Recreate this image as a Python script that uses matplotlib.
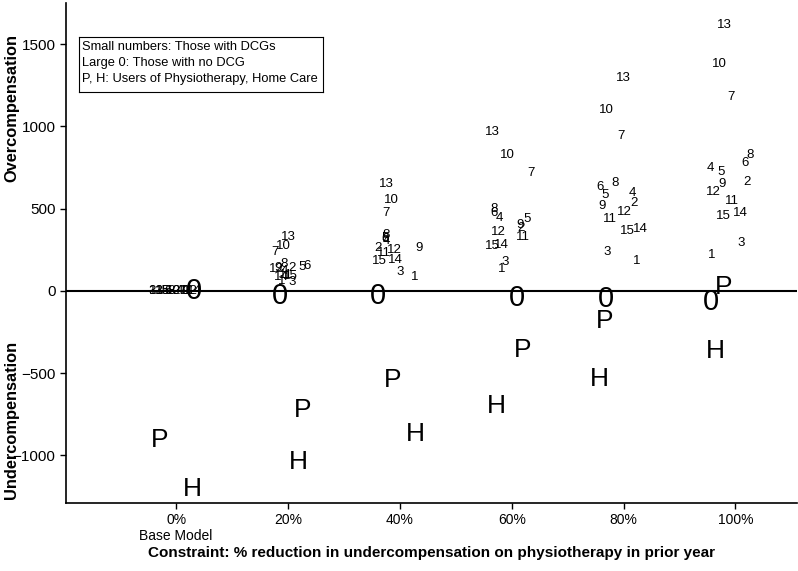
import matplotlib
matplotlib.use("Agg")
import matplotlib.pyplot as plt
from matplotlib import font_manager

names = {f.name for f in font_manager.fontManager.ttflist}
NARROW = "Liberation Sans Narrow" if "Liberation Sans Narrow" in names else "Liberation Sans"
REG = "Liberation Sans"

# constraint levels (% reduction) and tick labels
levels = [0, 20, 40, 60, 80, 100]
tick_labels = ["0%", "20%", "40%", "60%", "80%", "100%"]

# DCG labels 1..15: jittered x position and value (per level)
dcg_labels = [str(i) for i in range(1, 16)]
dcg_x = [
    [-3.0, 18.8, 42.7, 58.2, 82.3, 95.7],
    [0.0, 20.7, 36.0, 61.6, 81.8, 102.0],
    [-4.3, 20.8, 40.0, 58.8, 77.0, 101.1],
    [0.5, 19.4, 37.5, 57.8, 81.6, 95.6],
    [-2.0, 22.5, 37.4, 62.7, 76.6, 97.5],
    [-1.5, 23.4, 37.3, 56.9, 75.8, 101.7],
    [1.0, 17.6, 37.5, 63.4, 79.6, 99.2],
    [-1.0, 19.2, 37.6, 56.9, 78.4, 102.6],
    [1.5, 18.3, 43.4, 61.5, 76.1, 97.6],
    [-0.5, 19.2, 38.4, 59.3, 76.9, 97.2],
    [2.0, 19.7, 37.2, 62.0, 77.5, 99.4],
    [2.5, 17.9, 39.0, 57.6, 80.2, 96.0],
    [-3.6, 20.1, 37.5, 56.5, 79.9, 98.0],
    [3.2, 18.8, 39.2, 58.1, 83.0, 100.8],
    [-2.5, 20.4, 36.4, 56.6, 80.6, 97.8],
]
dcg_y = [
    [0, 61, 87, 132, 182, 218],
    [0, 138, 259, 380, 536, 664],
    [0, 55, 117, 178, 239, 293],
    [0, 121, 303, 441, 597, 745],
    [0, 144, 320, 435, 583, 721],
    [0, 148, 314, 472, 629, 779],
    [0, 235, 475, 714, 941, 1176],
    [0, 164, 340, 498, 657, 826],
    [0, 140, 259, 401, 516, 650],
    [0, 273, 552, 826, 1099, 1378],
    [0, 97, 229, 326, 435, 548],
    [0, 134, 249, 360, 482, 603],
    [0, 326, 648, 963, 1291, 1615],
    [0, 85, 188, 279, 375, 475],
    [0, 91, 184, 273, 366, 455],
]

# No DCG ("0"), physiotherapy users ("P"), home care users ("H")
nodcg_x = [3.1, 18.6, 36.1, 61.0, 76.9, 95.6]
nodcg_y = [-4, -30, -34, -42, -50, -65]
physio_x = [-3.0, 22.6, 38.7, 62.0, 76.6, 97.8]
physio_y = [-905, -722, -540, -358, -186, 22]
home_x = [2.9, 21.9, 42.7, 57.3, 75.6, 96.4]
home_y = [-1202, -1038, -868, -698, -534, -364]

W, H = 798, 571
fig = plt.figure(figsize=(W / 100, H / 100), dpi=100)
ax = fig.add_axes([66 / W, 1 - 503 / H, (797 - 66) / W, (503 - 3) / H])
ax.set_xlim(-19.7, 111)
ax.set_ylim(-1290, 1750)

for lab, xs, ys in zip(dcg_labels, dcg_x, dcg_y):
    for x, y in zip(xs, ys):
        ax.text(x, y, lab, ha="center", va="center", fontsize=9.5, family=REG)
for x, y in zip(nodcg_x, nodcg_y):
    ax.text(x, y, "0", ha="center", va="center", fontsize=21, family=NARROW)
for x, y in zip(physio_x, physio_y):
    ax.text(x, y, "P", ha="center", va="center", fontsize=19, family=REG)
for x, y in zip(home_x, home_y):
    ax.text(x, y, "H", ha="center", va="center", fontsize=19, family=REG)

ax.axhline(0, color="black", lw=1.5, zorder=0)

for s in ["top", "right"]:
    ax.spines[s].set_visible(False)
for s in ["left", "bottom"]:
    ax.spines[s].set_linewidth(1.2)

ax.set_xticks(levels)
ax.set_xticklabels(tick_labels, family=NARROW, fontsize=10)
ax.set_yticks([-1000, -500, 0, 500, 1000, 1500])
ax.set_yticklabels(["\u22121000", "\u2212500", "0", "500", "1000", "1500"], family=REG, fontsize=11)
ax.tick_params(axis="both", direction="out", length=4, width=1)

ax.text(0, -0.066, "Base Model", transform=ax.get_xaxis_transform(), ha="center", va="center",
        fontsize=10, family=NARROW)
fig.text((66 + 797) / 2 / W, 1 - 553 / H,
         "Constraint: % reduction in undercompensation on physiotherapy in prior year",
         ha="center", va="center", fontsize=11, fontweight="bold", family=NARROW)
fig.text(12 / W, 1 - 108 / H, "Overcompensation", rotation=90, ha="center", va="center",
         fontsize=11.8, fontweight="bold", family=REG)
fig.text(12 / W, 1 - 420 / H, "Undercompensation", rotation=90, ha="center", va="center",
         fontsize=11.8, fontweight="bold", family=REG)

# legend box
box_ax = fig.add_axes([78.6 / W, 1 - 91.8 / H, (322.8 - 78.6) / W, (91.8 - 37.4) / H])
box_ax.set_xticks([])
box_ax.set_yticks([])
for s in box_ax.spines.values():
    s.set_linewidth(0.8)
box_ax.patch.set_alpha(0)
legend_lines = ["Small numbers: Those with DCGs", "Large 0: Those with no DCG",
                "P, H: Users of Physiotherapy, Home Care"]
for i, t in enumerate(legend_lines):
    fig.text(82 / W, 1 - (47 + 16 * i) / H, t, ha="left", va="center", fontsize=9.3, family=REG)

fig.savefig("out.png", dpi=100)
